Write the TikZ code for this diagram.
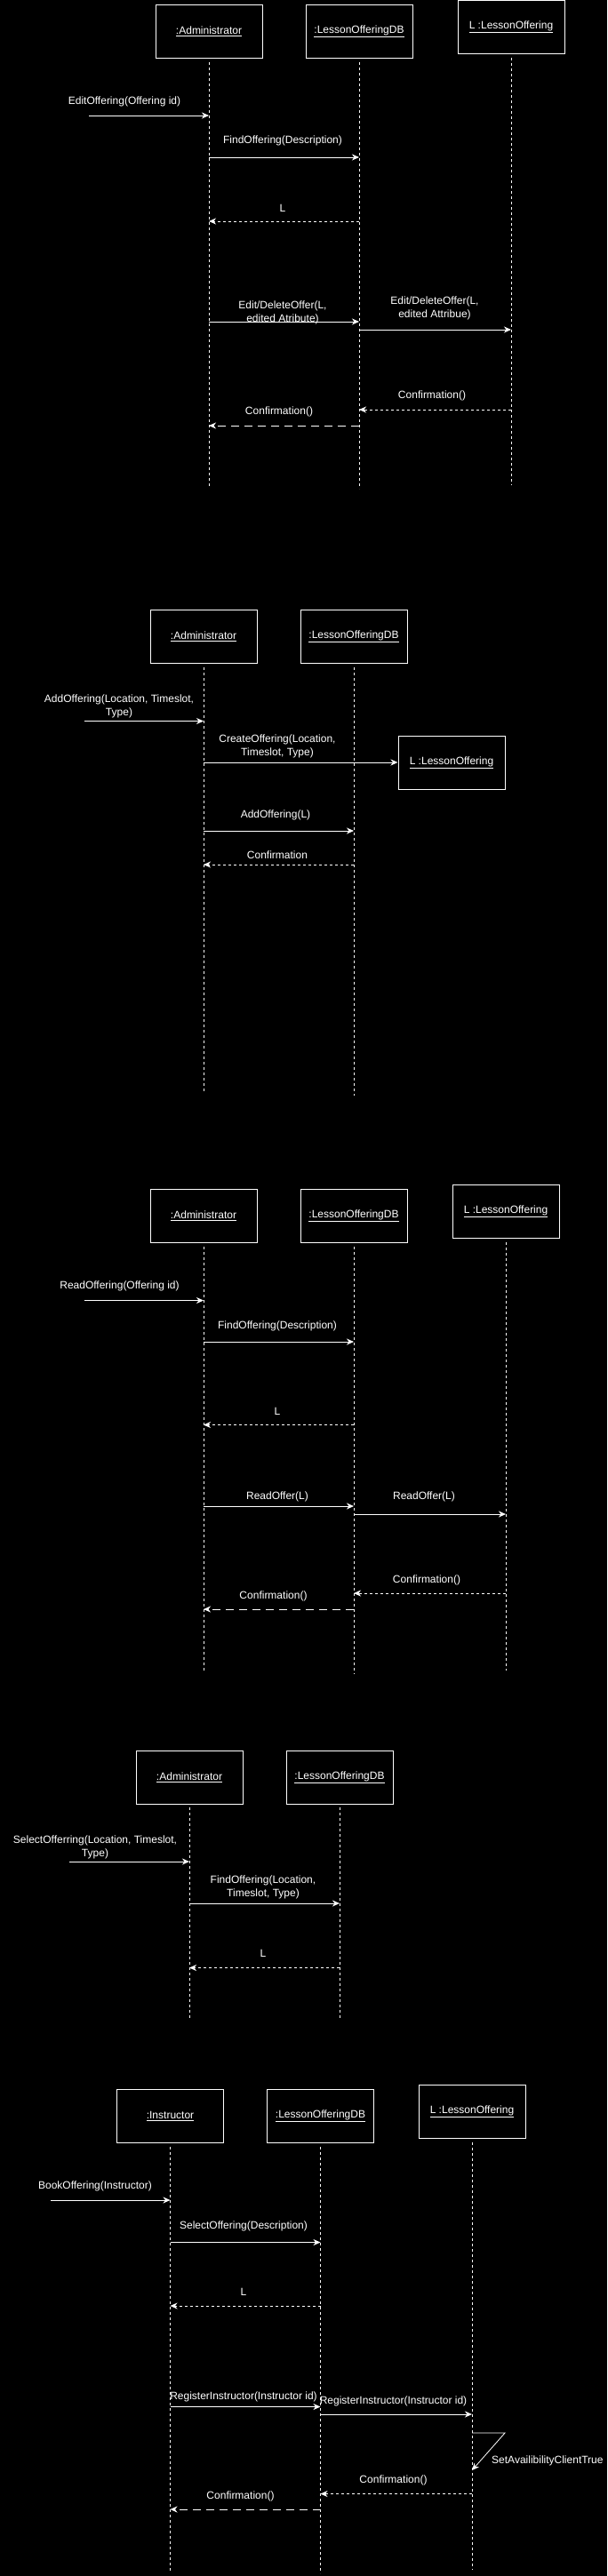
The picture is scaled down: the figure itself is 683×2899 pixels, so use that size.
\documentclass[tikz,border=0pt]{standalone}
\usepackage{fontspec}
\setmainfont{Liberation Sans}
\usetikzlibrary{arrows.meta}

\begin{document}
\begin{tikzpicture}[x=1pt, y=-1pt,
    every node/.style={text=white, font=\fontsize{12}{15}\selectfont},
    obj/.style={draw=white, line width=1pt, minimum width=120pt, minimum height=60pt, inner sep=0pt},
    lbl/.style={inner sep=0pt, align=center},
    lifeline/.style={draw=white, line width=0.8pt, dash pattern=on 3pt off 3pt},
    msg/.style={draw=white, line width=1pt, -{Stealth[length=8pt,width=7pt,inset=2.5pt]}},
    ret/.style={msg, dash pattern=on 3pt off 3pt},
    retlong/.style={msg, dash pattern=on 9pt off 6pt}]

        % Background
        \fill[black] (0,0) rectangle (683,2899);

        % Edit offering
        \node[obj] (adm1) at (235,35) {\underline{:Administrator}};
        \node[obj] (db1) at (404,35) {\underline{:LessonOfferingDB}};
        \node[obj] (lo1) at (575,30.5) {\underline{L :LessonOffering}};

        \coordinate (in1) at (100,130);
        \draw[msg] (in1) -- (adm1 |- in1);
        \node[lbl] (t1a) at (140,114) {EditOffering(Offering id)};
        \draw[msg] (adm1 |- 0,177) -- (db1 |- 0,177);
        \node[lbl] (t1b) at (318,158) {FindOffering(Description)};
        \draw[ret] (db1 |- 0,249) -- (adm1 |- 0,249);
        \node[lbl] (t1c) at (318,234) {L};
        \draw[msg] (adm1 |- 0,362) -- (db1 |- 0,362);
        \node[lbl] (t1d) at (318,352) {Edit/DeleteOffer(L,\\edited Atribute)};
        \draw[msg] (db1 |- 0,371) -- (lo1 |- 0,371);
        \node[lbl] (t1e) at (489,347) {Edit/DeleteOffer(L,\\edited Attribue)};
        \draw[ret] (lo1 |- 0,461) -- (db1 |- 0,461);
        \node[lbl] (t1f) at (486,445) {Confirmation()};
        \draw[retlong] (db1 |- 0,479) -- (adm1 |- 0,479);
        \node[lbl] (t1g) at (314,463) {Confirmation()};

        % Add offering
        \node[obj] (adm2) at (229,716.5) {\underline{:Administrator}};
        \node[obj] (db2) at (398,716.5) {\underline{:LessonOfferingDB}};
        \node[obj] (lo2) at (508,858) {\underline{L :LessonOffering}};

        \coordinate (in2) at (94.5,811.5);
        \draw[msg] (in2) -- (adm2 |- in2);
        \node[lbl] (t2a) at (134,795) {AddOffering(Location, Timeslot,\\Type)};
        \draw[msg] (adm2 |- lo2.west) -- (lo2.west);
        \node[lbl] (t2b) at (312,840) {CreateOffering(Location,\\Timeslot, Type)};
        \draw[msg] (adm2 |- 0,935) -- (db2 |- 0,935);
        \node[lbl] (t2c) at (310,917.5) {AddOffering(L)};
        \draw[ret] (db2 |- 0,973) -- (adm2 |- 0,973);
        \node[lbl] (t2d) at (312,962) {Confirmation};

        % Read offering
        \node[obj] (adm3) at (229,1368) {\underline{:Administrator}};
        \node[obj] (db3) at (398,1368) {\underline{:LessonOfferingDB}};
        \node[obj] (lo3) at (569,1363) {\underline{L :LessonOffering}};

        \coordinate (in3) at (94.5,1463.5);
        \draw[msg] (in3) -- (adm3 |- in3);
        \node[lbl] (t3a) at (134.5,1447) {ReadOffering(Offering id)};
        \draw[msg] (adm3 |- 0,1510) -- (db3 |- 0,1510);
        \node[lbl] (t3b) at (312,1492) {FindOffering(Description)};
        \draw[ret] (db3 |- 0,1603.5) -- (adm3 |- 0,1603.5);
        \node[lbl] (t3c) at (312,1588) {L};
        \draw[msg] (adm3 |- 0,1695) -- (db3 |- 0,1695);
        \node[lbl] (t3d) at (312,1684) {ReadOffer(L)};
        \draw[msg] (db3 |- 0,1704) -- (lo3 |- 0,1704);
        \node[lbl] (t3e) at (477,1684) {ReadOffer(L)};
        \draw[ret] (lo3 |- 0,1793) -- (db3 |- 0,1793);
        \node[lbl] (t3f) at (480,1778) {Confirmation()};
        \draw[retlong] (db3 |- 0,1811) -- (adm3 |- 0,1811);
        \node[lbl] (t3g) at (307.5,1796) {Confirmation()};

        % Select offering
        \node[obj] (adm4) at (213,2000) {\underline{:Administrator}};
        \node[obj] (db4) at (382,2000) {\underline{:LessonOfferingDB}};

        \coordinate (in4) at (78,2095);
        \draw[msg] (in4) -- (adm4 |- in4);
        \node[lbl] (t4a) at (107,2079) {SelectOfferring(Location, Timeslot,\\Type)};
        \draw[msg] (adm4 |- 0,2142) -- (db4 |- 0,2142);
        \node[lbl] (t4b) at (296,2124) {FindOffering(Location,\\Timeslot, Type)};
        \draw[ret] (db4 |- 0,2214.5) -- (adm4 |- 0,2214.5);
        \node[lbl] (t4c) at (296,2198) {L};

        % Book offering
        \node[obj] (ins5) at (191.5,2381.5) {\underline{:Instructor}};
        \node[obj] (db5) at (360.5,2381.5) {\underline{:LessonOfferingDB}};
        \node[obj] (lo5) at (531,2376) {\underline{L :LessonOffering}};

        \coordinate (in5) at (57,2476);
        \draw[msg] (in5) -- (ins5 |- in5);
        \node[lbl] (t5a) at (107,2460.5) {BookOffering(Instructor)};
        \draw[msg] (ins5 |- 0,2523.5) -- (db5 |- 0,2523.5);
        \node[lbl] (t5b) at (274,2505) {SelectOffering(Description)};
        \draw[ret] (db5 |- 0,2595) -- (ins5 |- 0,2595);
        \node[lbl] (t5c) at (274,2579.5) {L};
        \draw[msg] (ins5 |- 0,2708.5) -- (db5 |- 0,2708.5);
        \node[lbl] (t5d) at (274,2697.5) {RegisterInstructor(Instructor id)};
        \draw[msg] (db5 |- 0,2717) -- (lo5 |- 0,2717);
        \node[lbl] (t5e) at (442.5,2702.5) {RegisterInstructor(Instructor id)};
        \coordinate (self5) at (568,2738);
        \draw[msg, line width=0.8pt] (lo5 |- self5) -- (self5) -- (lo5 |- 0,2780);
        \node[lbl, anchor=west] (t5f) at (553,2769) {SetAvailibilityClientTrue};
        \draw[ret] (lo5 |- 0,2806.5) -- (db5 |- 0,2806.5);
        \node[lbl] (t5g) at (442.5,2791) {Confirmation()};
        \draw[retlong] (db5 |- 0,2824) -- (ins5 |- 0,2824);
        \node[lbl] (t5h) at (270.5,2809) {Confirmation()};

        % Lifelines
        \foreach \n/\a/\b in {adm1/70/548, db1/70/550, lo1/65/546,
                              adm2/751/1230, db2/751/1233,
                              adm3/1403/1882, db3/1403/1884, lo3/1398/1880,
                              adm4/2034/2271, db4/2034/2271,
                              ins5/2416/2894, db5/2416/2896, lo5/2411/2892}
        {
            \draw[lifeline] (\n |- 0,\a) -- (\n |- 0,\b);
        }
    \end{tikzpicture}
\end{document}
